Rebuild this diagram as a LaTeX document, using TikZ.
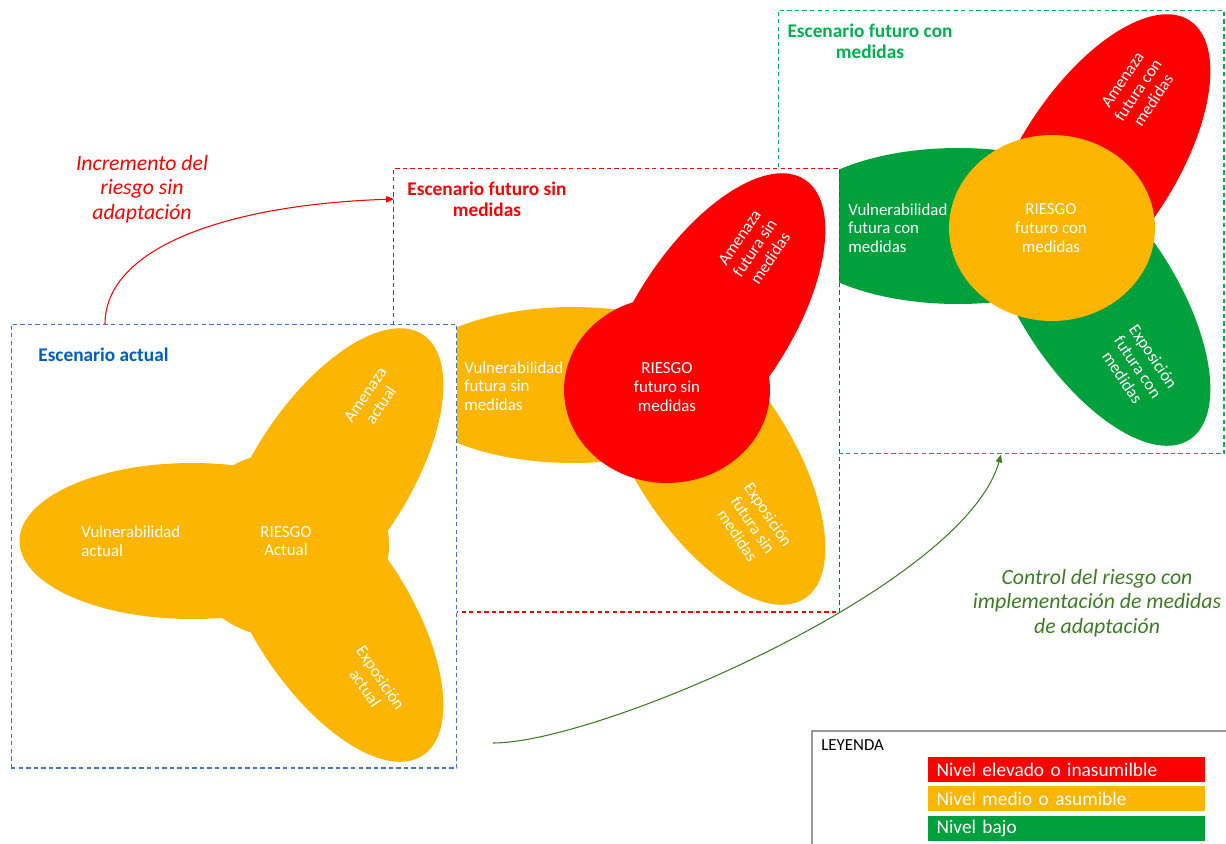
\documentclass[tikz,border=0pt]{standalone}
\usepackage{fontspec}
\setmainfont{Carlito}
\usetikzlibrary{arrows.meta,shapes.geometric,positioning}
\definecolor{naranja}{RGB}{252,181,0}
\definecolor{rojo}{RGB}{255,0,0}
\definecolor{verde}{RGB}{0,160,60}
\definecolor{azul}{RGB}{68,114,196}
\definecolor{azultit}{RGB}{0,94,190}
\definecolor{verdelin}{RGB}{0,176,80}
\definecolor{verdeosc}{RGB}{62,124,36}

\begin{document}
\begin{tikzpicture}[x=0.02cm, y=-0.02cm,
    petal/.style={ellipse, fill=#1, minimum width=6.9cm, minimum height=3.12cm, inner sep=0pt},
    tpetal/.style={petal=#1, minimum width=6.8cm},
    core/.style={ellipse, fill=#1, minimum width=4.12cm, minimum height=3.72cm, inner sep=0pt},
    ptxt/.style={text=white, font=\fontsize{9.6}{10.6}\selectfont, align=center, inner sep=0pt},
    ltxt/.style={ptxt, align=left, anchor=west},
    scen/.style={draw=#1, fill=white, line width=0.6pt, dash pattern=on 2.5pt off 1.8pt,
                 minimum width=8.92cm, minimum height=8.88cm, inner sep=0pt},
    ttl/.style={text=#1, font=\fontsize{11}{12}\selectfont\bfseries, align=center, inner sep=0pt},
    note/.style={text=#1, font=\fontsize{12.4}{13.8}\selectfont\itshape, align=center, inner sep=0pt},
    arr/.style={-{Triangle[length=4.5pt,width=3.6pt]}, line width=0.6pt, draw=#1},
    lgd/.style={fill=#1, text=white, font=\fontsize{11}{12}\selectfont, minimum height=0.5cm,
                text width=5.2cm, align=left, inner xsep=0.17cm, inner ysep=0pt}]

    \useasboundingbox (0,0) rectangle (1226,843);

    % ── escenario futuro con medidas ─────────────────────────
    \node[scen=verdelin] (conbox) at (1001,232) {};
    \node[ttl=verdelin] (contit) at (870,41) {Escenario futuro con\\medidas};
    \node[petal=verde] (cv) at (958,226) {};
    \node[tpetal=rojo, rotate=57] (ca) at (1097,163) {};
    \node[tpetal=verde, rotate=-57] (ce) at (1097,297) {};
    \node[core=naranja] (cr) at (1052,228) {};
    \node[ltxt] (cvt) at (848,228) {Vulnerabilidad\\futura con\\medidas};
    \node[ptxt] (crt) at (1051,228) {RIESGO\\futuro con\\medidas};
    \node[ptxt, rotate=56] (cat) at (1138,90) {Amenaza\\futura con\\medidas};
    \node[ptxt, rotate=-56] (cet) at (1138,367) {Exposición\\futura con\\medidas};

    % ── escenario futuro sin medidas ─────────────────────────
    \node[scen=rojo] (sinbox) at (616.5,390) {};
    \node[ttl=rojo] (sintit) at (487,199) {Escenario futuro sin\\medidas};
    \node[petal=naranja] (sv) at (573,385) {};
    \node[tpetal=rojo, rotate=57] (sa) at (712,322) {};
    \node[tpetal=naranja, rotate=-57] (se) at (712,456) {};
    \node[core=rojo] (sr) at (667,390) {};
    \node[ltxt] (svt) at (464,386) {Vulnerabilidad\\futura sin\\medidas};
    \node[ptxt] (srt) at (667,387) {RIESGO\\futuro sin\\medidas};
    \node[ptxt, rotate=56] (sat) at (755,248) {Amenaza\\futura sin\\medidas};
    \node[ptxt, rotate=-56] (set) at (753,525) {Exposición\\futura sin\\medidas};

    % ── escenario actual ─────────────────────────────────────
    \node[scen=azul] (actbox) at (234,546) {};
    \node[ttl=azultit, anchor=west] (acttit) at (38,355) {Escenario actual};
    \node[petal=naranja] (av) at (192,541) {};
    \node[tpetal=naranja, rotate=57] (aa) at (330,477) {};
    \node[tpetal=naranja, rotate=-57] (ae) at (330,613) {};
    \node[core=naranja] (ar) at (286,545) {};
    \node[ltxt] (avt) at (81,541) {Vulnerabilidad\\actual};
    \node[ptxt] (art) at (286,541) {RIESGO\\Actual};
    \node[ptxt, rotate=56] (aat) at (373,400) {Amenaza\\actual};
    \node[ptxt, rotate=-56] (aet) at (373,683) {Exposición\\actual};

    % ── transiciones ─────────────────────────────────────────
    \coordinate (incA) at (105,324);
    \coordinate (incB) at (394,199);
    \draw[arr=rojo] (incA) .. controls (105,250) and (220,205) .. (incB);
    \node[note=rojo] (inctxt) at (142,189) {Incremento del\\riesgo sin\\adaptación};

    \coordinate (ctlA) at (493,743);
    \draw[arr=verdeosc] (ctlA) .. controls (600,743) and (965,585) .. (conbox.south);
    \node[note=verdeosc] (ctltxt) at (1097,603) {Control del riesgo con\\implementación de medidas\\de adaptación};

    % ── leyenda ──────────────────────────────────────────────
    \node[draw=black!40, line width=0.8pt, minimum width=8.56cm, minimum height=2.58cm,
          inner sep=0pt] (leyenda) at (1026,795.5) {};
    \node[anchor=west, inner sep=0pt, font=\fontsize{9.6}{10.6}\selectfont] (leytit) at (821,745) {LEYENDA};
    \node[lgd=rojo] (lg1) at (1066.5,769.5) {Nivel elevado o inasumilble};
    \node[lgd=naranja] (lg2) at (1066.5,798.5) {Nivel medio o asumible};
    \node[lgd=verde] (lg3) at (1066.5,828.5) {Nivel bajo};

\end{tikzpicture}
\end{document}
